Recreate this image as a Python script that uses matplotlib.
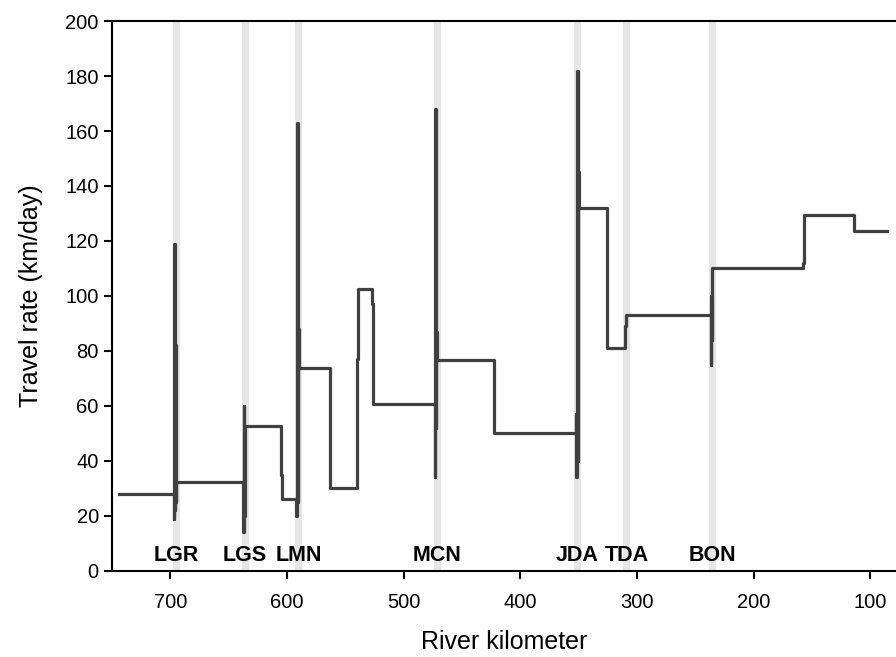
import numpy as np
import matplotlib
matplotlib.use("Agg")
import matplotlib.pyplot as plt

plt.rcParams["font.family"] = ["Liberation Sans", "DejaVu Sans"]

# dam locations (river km) and names
dam_km = [695, 636, 590, 471, 351, 309, 235]
dam_names = ["LGR", "LGS", "LMN", "MCN", "JDA", "TDA", "BON"]

# travel rate, step series (rate holds from km[i] to km[i+1])
km = [744, 697, 696.6, 696.2, 695.8, 695.4, 695,
      637.5, 637, 636.5, 636, 605, 604,
      592, 591.5, 591, 590.5, 590, 563.5, 563,
      540, 539.5, 527, 526.5,
      473.5, 473, 472.5, 472, 471.5, 423, 422.5,
      352.5, 352, 351.5, 351, 350.5, 350, 326, 325.5,
      310, 309.5, 237, 236.5, 236, 235.5,
      157.5, 157, 114, 86]
rate = [28, 19, 119, 22, 82, 25, 32.3,
        14, 60, 20, 52.7, 35, 26,
        20, 163, 25, 88, 73.8, 69, 30,
        77, 102.5, 97, 60.8,
        34, 168, 52, 87, 76.7, 52.7, 50,
        57, 34, 182, 40, 145, 132, 108, 81,
        89, 93, 75, 100, 84, 110,
        112, 129.5, 123.6, 123.6]

fig = plt.figure(figsize=(8.96, 6.57), dpi=100)
ax = fig.add_axes([0.125, 0.131, 0.875, 0.837])

for d in dam_km:
    ax.axvspan(d - 3, d + 3, color="#e6e6e6", lw=0, zorder=0)

ax.step(km, rate, where="post", color="#404040", lw=2.3, zorder=2)

for d, n in zip(dam_km, dam_names):
    ax.text(d, 5.5, n, ha="center", va="center", fontsize=15.5,
            fontweight="bold", zorder=3)

ax.set_xlim(750, 78)
ax.set_ylim(0, 200)
ax.set_xticks([700, 600, 500, 400, 300, 200, 100])
ax.set_yticks(np.arange(0, 201, 20))

ax.spines["right"].set_visible(False)
for s in ["left", "bottom", "top"]:
    ax.spines[s].set_linewidth(1.5)
ax.tick_params(axis="both", direction="out", length=6, width=1.5,
               labelsize=14.5)
ax.tick_params(axis="x", pad=10)

ax.set_xlabel("River kilometer", fontsize=18, labelpad=13)
ax.set_ylabel("Travel rate (km/day)", fontsize=18, labelpad=16)

fig.savefig("out.png", dpi=100)
